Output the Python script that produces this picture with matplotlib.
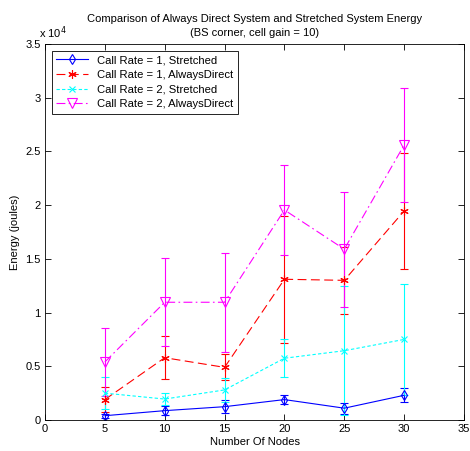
import matplotlib
matplotlib.use("Agg")
import matplotlib.pyplot as plt

plt.rcParams['font.family'] = ['Liberation Sans', 'DejaVu Sans']
plt.rcParams['font.size'] = 8

# energy values in units of 1e4 joules
nodes = [5, 10, 15, 20, 25, 30]

cr1_stretched = [0.04, 0.087, 0.124, 0.19, 0.11, 0.23]
cr1_stretched_err = [0.02, 0.04, 0.06, 0.045, 0.05, 0.065]

cr1_direct = [0.19, 0.58, 0.49, 1.31, 1.30, 1.946]
cr1_direct_err = [0.12, 0.20, 0.12, 0.59, 0.31, 0.54]

cr2_stretched = [0.25, 0.195, 0.28, 0.575, 0.645, 0.75]
cr2_stretched_err = [0.15, 0.06, 0.11, 0.175, 0.60, 0.52]

cr2_direct = [0.54, 1.096, 1.096, 1.955, 1.59, 2.56]
cr2_direct_err = [0.32, 0.41, 0.46, 0.42, 0.535, 0.53]

labels = ["Call Rate = 1, Stretched", "Call Rate = 1, AlwaysDirect",
          "Call Rate = 2, Stretched", "Call Rate = 2, AlwaysDirect"]

fig = plt.figure(figsize=(4.7, 4.51), dpi=100)
ax = fig.add_axes([45/470, 31/451, 419/470, 376/451])

series = [
    (cr1_stretched, cr1_stretched_err, 'blue', '-', 'd', 'none', 5),
    (cr1_direct, cr1_direct_err, 'red', (0, (8, 4)), (6, 2, 0), 'red', 6),
    (cr2_stretched, cr2_stretched_err, 'cyan', (0, (3, 2)), 'x', 'cyan', 4),
    (cr2_direct, cr2_direct_err, 'magenta', (0, (8, 3, 1.5, 3)), 'v', 'none', 7),
]

handles = []
for (vals, errs, col, ls, mk, mfc, ms), lab in zip(series, labels):
    h = ax.errorbar(nodes, vals, yerr=errs, color=col, linestyle=ls, linewidth=0.8,
                    marker=mk, markersize=ms, markerfacecolor=mfc,
                    markeredgecolor=col, markeredgewidth=0.8,
                    elinewidth=0.8, capsize=3, capthick=0.8, label=lab)
    handles.append(h[0])

ax.set_xlim(0, 35)
ax.set_ylim(0, 3.5)
ax.set_xticks(range(0, 36, 5))
ax.set_yticks([0, 0.5, 1, 1.5, 2, 2.5, 3, 3.5])
ax.set_yticklabels(['0', '0.5', '1', '1.5', '2', '2.5', '3', '3.5'])
ax.tick_params(direction='in', top=True, right=True, length=4, width=0.6, pad=3)
for sp in ax.spines.values():
    sp.set_linewidth(0.6)

ax.text(-0.5, 3.53, r'x 10$^4$', ha='left', va='bottom', fontsize=8)

ax.set_xlabel("Number Of Nodes", labelpad=2)
ax.set_ylabel("Energy (joules)", labelpad=4)
ax.set_title("Comparison of Always Direct System and Stretched System Energy\n"
             "(BS corner, cell gain = 10)", fontsize=8, pad=6, linespacing=1.5)

leg = ax.legend(handles=handles, labels=labels, loc='upper left', fancybox=False,
                framealpha=1, edgecolor='black', borderaxespad=0.6, handlelength=2.8,
                labelspacing=0.42, borderpad=0.4, fontsize=8.1)
leg.get_frame().set_linewidth(0.6)

fig.savefig("out.png", dpi=100)
